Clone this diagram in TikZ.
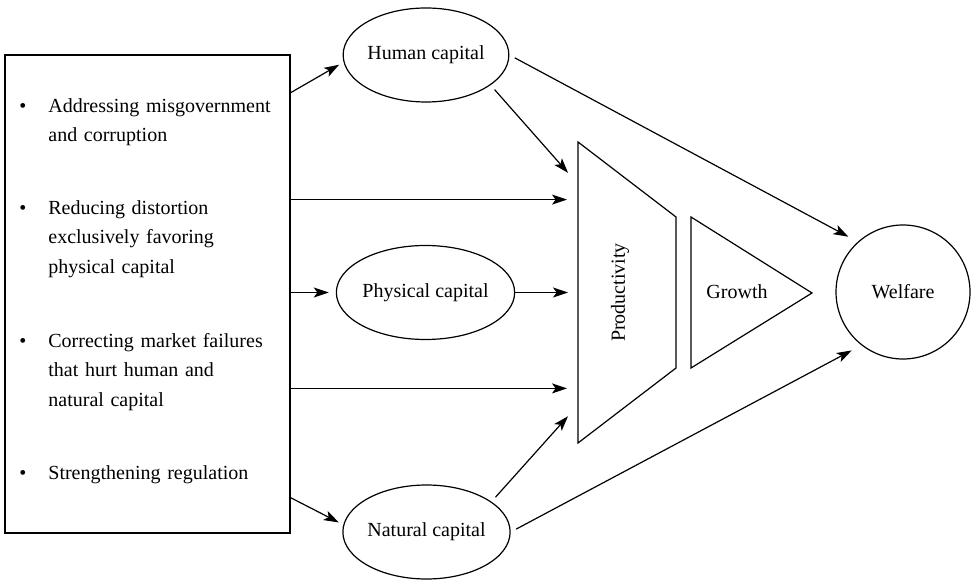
\documentclass[tikz,border=0pt]{standalone}
\usepackage{fontspec}
\setmainfont{Liberation Serif}
\usetikzlibrary{arrows.meta, calc, shapes.geometric}
\tikzset{
  capnode/.style={ellipse, draw, line width=0.6pt,
    minimum width=81.5pt, minimum height=47pt, inner sep=0pt,
    font=\fontsize{10}{12}\selectfont},
  policybox/.style={rectangle, draw, line width=0.6pt,
    minimum width=142.5pt, minimum height=239pt, inner sep=0pt},
  policyitem/.style={anchor=north west, inner sep=0pt, text width=120pt,
    align=left, font=\fontsize{10}{14.75}\selectfont},
  welfarenode/.style={circle, draw, line width=0.6pt, minimum size=67pt,
    inner sep=0pt, font=\fontsize{10}{12}\selectfont},
  label/.style={inner sep=0pt, font=\fontsize{10}{12}\selectfont},
  arrow/.style={-{Stealth[length=7.5pt, width=5pt, inset=1.8pt]}, line width=0.6pt},
  line/.style={line width=0.6pt, line join=miter}
}
\newcommand{\bulletmark}{\strut\llap{\makebox[14.5pt][l]{\textbullet}}}

\begin{document}
\begin{tikzpicture}[x=0.5pt, y=-0.5pt]
  \useasboundingbox (0,0) rectangle (972,581);

  % Policy box and its items
  \node[policybox] (policy) at (147.5,294) {};
  \node[policyitem] (item1) at (48,91.4) {\bulletmark Addressing misgovernment\\and corruption};
  \node[policyitem] (item2) at (48,193.4) {\bulletmark Reducing distortion\\exclusively favoring\\physical capital};
  \node[policyitem] (item3) at (48,326.4) {\bulletmark Correcting market failures\\that hurt human and\\natural capital};
  \node[policyitem] (item4) at (48,458.4) {\bulletmark Strengthening regulation};

  % Capital ellipses
  \node[capnode] (human) at (426,55) {Human capital};
  \node[capnode] (physical) at (425.5,292.5) {Physical capital};
  \node[capnode] (natural) at (426.5,532) {Natural capital};

  % Productivity trapezoid
  \coordinate (pa) at (578,142);
  \coordinate (pb) at (676,217);
  \coordinate (pc) at (676,368);
  \coordinate (pd) at (578,443);
  \draw[line] (pa) -- (pb) -- (pc) -- (pd) -- cycle;
  \node[label, rotate=90] (prod) at (620,292.5) {Productivity};

  % Growth triangle
  \coordinate (ga) at (691,217);
  \coordinate (gb) at (812,293);
  \coordinate (gc) at (691,368);
  \draw[line] (ga) -- (gb) -- (gc) -- cycle;
  \node[label] (growth) at (737,292) {Growth};

  % Welfare
  \node[welfarenode] (welfare) at (903,292) {Welfare};

  % Exit points on the policy box
  \coordinate (b1) at ($(policy.north east)!0.08!(policy.south east)$);
  \coordinate (b2) at ($(policy.north east)!0.303!(policy.south east)$);
  \coordinate (b4) at ($(policy.north east)!0.697!(policy.south east)$);
  \coordinate (b5) at ($(policy.north east)!0.925!(policy.south east)$);

  % Arrows from the policy box
  \draw[arrow, shorten >=2.5pt] (b1) -- (human.185);
  \draw[arrow, shorten >=5.5pt] (b2) -- (b2 -| pa);
  \draw[arrow, shorten >=3.5pt] (policy.east |- physical.west) -- (physical.west);
  \draw[arrow, shorten >=5.5pt] (b4) -- (b4 -| pa);
  \draw[arrow, shorten >=2.5pt] (b5) -- (natural.175);

  % Arrows into productivity
  \draw[arrow, shorten <=3pt, shorten >=7.5pt] (human.-25) -- ($(pa)!0.14!(pd)$);
  \draw[arrow, shorten >=5pt] (physical.east) -- (physical.east -| pa);
  \draw[arrow, shorten <=3pt, shorten >=7.5pt] (natural.25) -- ($(pa)!0.874!(pd)$);

  % Arrows into welfare
  \draw[arrow, shorten <=3pt, shorten >=5.3pt] (human.east) -- (welfare.132);
  \draw[arrow, shorten <=3pt, shorten >=5.5pt] (natural.east) -- (welfare.232);
\end{tikzpicture}
\end{document}
